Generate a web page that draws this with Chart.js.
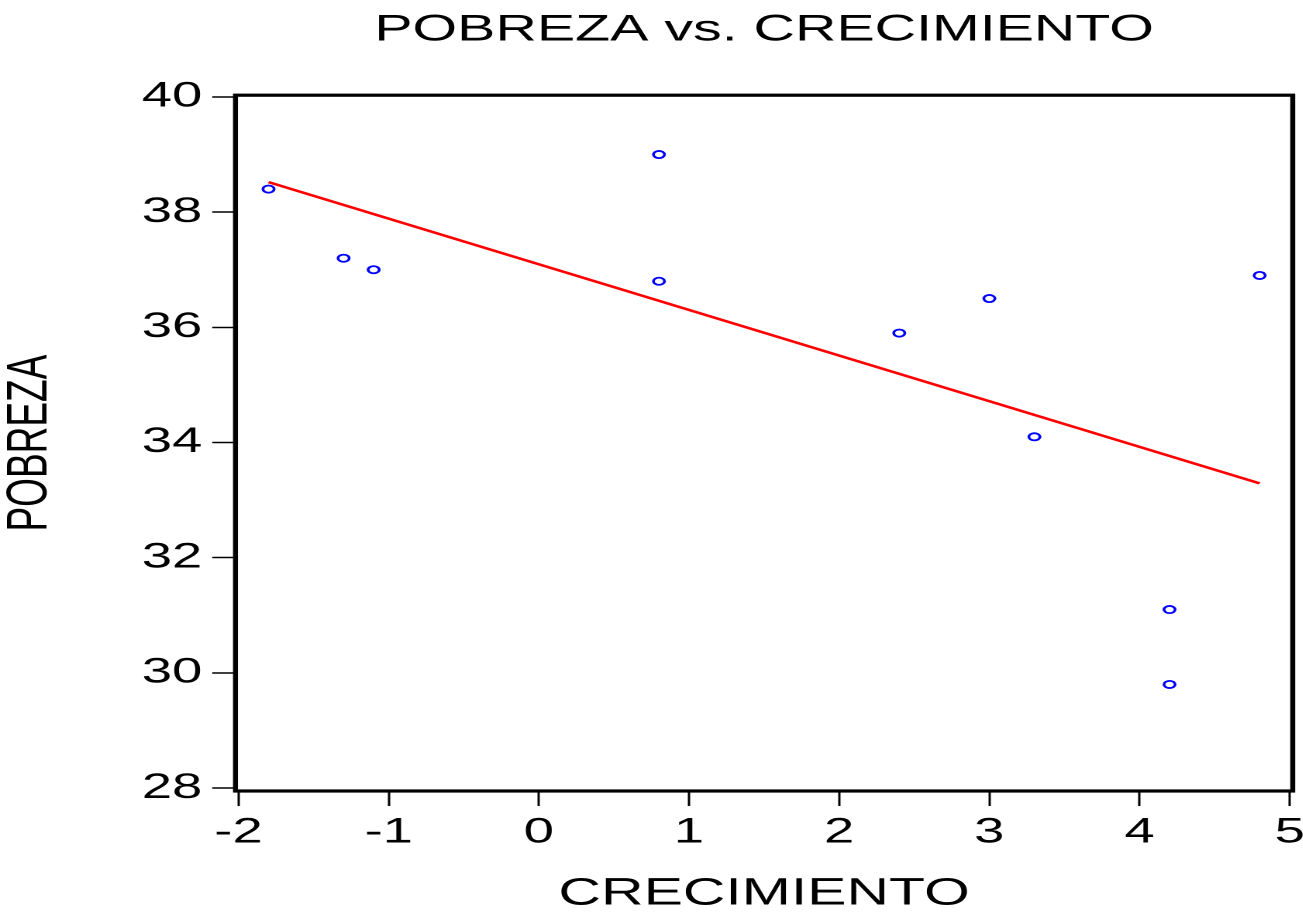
<!DOCTYPE html>
<html>
  <head>
    <meta charset="UTF-8">
    <title>POBREZA vs. CRECIMIENTO</title>
    <script src="https://cdn.jsdelivr.net/npm/chart.js"></script>
    <style>
      body { margin: 0; background: #fff; overflow: hidden; }
      /* the original graph is stretched sideways, so draw narrow and stretch */
      #myChart { transform: scaleX(1.55); transform-origin: 0 0; }
    </style>
  </head>
  <body>
    <canvas id="myChart" width="841" height="913"></canvas>

    <script>
      // datos
      const crecimiento = [-1.8, -1.3, -1.1, 0.8, 0.8, 2.4, 3.0, 3.3, 4.2, 4.2, 4.8];
      const pobreza = [38.4, 37.2, 37.0, 39.0, 36.8, 35.9, 36.5, 34.1, 31.1, 29.8, 36.9];
      // recta de regresion (extremos)
      const rectaX = [-1.8, 4.8];
      const rectaY = [38.52, 33.29];
      // marcas de los ejes
      const xTicks = [-2, -1, 0, 1, 2, 3, 4, 5];
      const yTicks = [28, 30, 32, 34, 36, 38, 40];

      const fontFamily = '"Liberation Sans", Arial, sans-serif';

      // marco negro alrededor del area del grafico
      const framePlugin = {
        id: 'frame',
        afterDraw(chart) {
          const a = chart.chartArea;
          const ctx = chart.ctx;
          ctx.save();
          ctx.strokeStyle = '#000';
          ctx.lineWidth = 3.2;
          ctx.strokeRect(a.left, a.top, a.right - a.left, a.bottom - a.top);
          ctx.restore();
        }
      };

      const ctx = document.getElementById('myChart').getContext('2d');
      new Chart(ctx, {
        type: 'scatter',
        data: {
          datasets: [
            {
              label: 'POBREZA',
              data: crecimiento.map((x, i) => ({ x: x, y: pobreza[i] })),
              showLine: false,
              pointStyle: 'circle',
              pointRadius: 3.6,
              pointBorderWidth: 1.8,
              pointBorderColor: '#0000ff',
              pointBackgroundColor: '#ffffff',
              order: 1
            },
            {
              label: 'Ajuste',
              data: rectaX.map((x, i) => ({ x: x, y: rectaY[i] })),
              showLine: true,
              borderColor: '#ff0000',
              borderWidth: 2.5,
              pointRadius: 0,
              fill: false,
              order: 2
            }
          ]
        },
        options: {
          responsive: false,
          devicePixelRatio: 2,
          animation: false,
          layout: { padding: { left: 0, right: 7, top: 0, bottom: 0 } },
          plugins: {
            legend: { display: false },
            tooltip: { enabled: false },
            title: {
              display: true,
              fullSize: false,
              text: 'POBREZA vs. CRECIMIENTO',
              color: '#000',
              font: { family: fontFamily, size: 37, weight: 'normal', lineHeight: 1.2 },
              padding: { top: 8, bottom: 42.8 }
            }
          },
          scales: {
            x: {
              type: 'linear',
              min: -2.02,
              max: 5.02,
              afterBuildTicks: s => { s.ticks = xTicks.map(v => ({ value: v })); },
              afterFit: s => { s.paddingRight = 0; },
              ticks: {
                color: '#000',
                padding: 6,
                maxRotation: 0,
                font: { family: fontFamily, size: 35, lineHeight: 1.2 },
                callback: v => String(v)
              },
              grid: {
                display: true,
                drawOnChartArea: false,
                drawTicks: true,
                tickLength: 15,
                tickColor: '#000',
                tickWidth: 1.5
              },
              border: { display: false },
              title: {
                display: true,
                text: 'CRECIMIENTO',
                color: '#000',
                font: { family: fontFamily, size: 38, lineHeight: 1.0 },
                padding: { top: 15, bottom: 0 }
              }
            },
            y: {
              type: 'linear',
              min: 27.95,
              max: 40.03,
              afterBuildTicks: s => { s.ticks = yTicks.map(v => ({ value: v })); },
              ticks: {
                color: '#000',
                padding: 6.5,
                font: { family: fontFamily, size: 35, lineHeight: 1.2 },
                callback: v => String(v)
              },
              grid: {
                display: true,
                drawOnChartArea: false,
                drawTicks: true,
                tickLength: 15,
                tickColor: '#000',
                tickWidth: 1.5
              },
              border: { display: false },
              title: {
                display: true,
                text: 'POBREZA',
                color: '#000',
                font: { family: fontFamily, size: 37, lineHeight: 1.0 },
                padding: { top: 1.5, bottom: 46.5 }
              }
            }
          }
        },
        plugins: [framePlugin]
      });
    </script>
  </body>
</html>
